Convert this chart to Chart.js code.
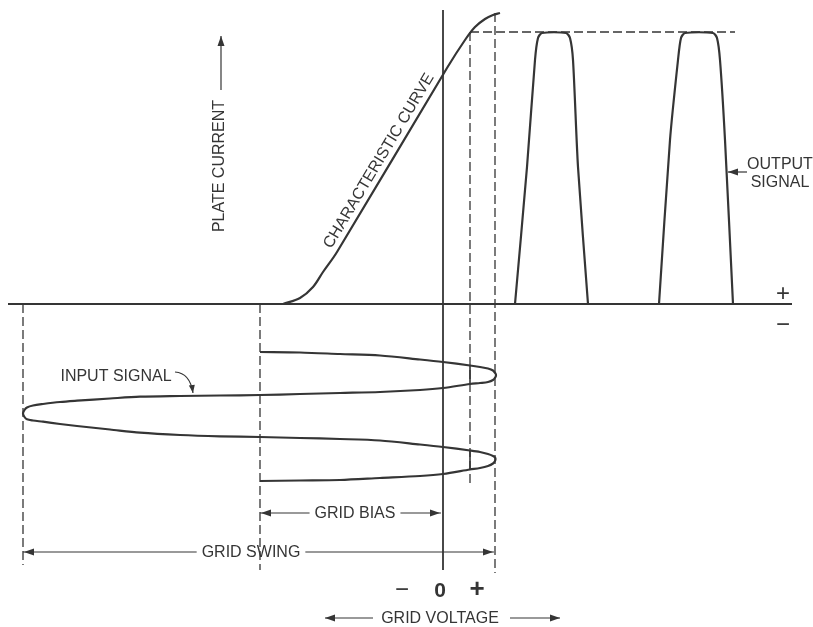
<!DOCTYPE html>
<html>
<head>
<meta charset="utf-8">
<script src="https://cdn.jsdelivr.net/npm/chart.js@4/dist/chart.umd.min.js"></script>
<style>
  html, body { margin: 0; background: #fff; }
  #wrap { width: 813px; height: 627px; position: relative; }
</style>
</head>
<body>
<div id="wrap"><canvas id="chart"></canvas></div>
<script>
/* global Chart */

// x = grid voltage (0 at the plate-current axis), y = plate current above 0, time below 0

const charCurve = [
  { x: -16.0, y: 0 }, { x: -14.3, y: 0.6 }, { x: -13.0, y: 1.7 }, { x: -12.0, y: 3.2 },
  { x: -10.6, y: 5.2 }, { x: 0.4, y: 23.6 }, { x: 2.2, y: 26.4 }, { x: 3.2, y: 27.7 },
  { x: 4.2, y: 28.5 }, { x: 5.0, y: 28.9 }, { x: 5.7, y: 29.1 }
];

const inputSignal = [
  { x: -18.3, y: -4.8 }, { x: -14.3, y: -4.85 }, { x: -10.3, y: -5.0 }, { x: -6.3, y: -5.15 },
  { x: -2.3, y: -5.55 }, { x: 0, y: -5.8 }, { x: 2.7, y: -6.15 }, { x: 3.7, y: -6.3 },
  { x: 4.5, y: -6.45 }, { x: 5.0, y: -6.65 }, { x: 5.25, y: -6.95 }, { x: 5.3, y: -7.1 },
  { x: 5.25, y: -7.3 }, { x: 5.0, y: -7.6 }, { x: 4.5, y: -7.8 }, { x: 3.7, y: -7.9 },
  { x: 2.7, y: -8.0 }, { x: 0, y: -8.4 }, { x: -2.3, y: -8.6 }, { x: -6.3, y: -8.8 },
  { x: -10.3, y: -8.9 }, { x: -14.3, y: -9.0 }, { x: -18.3, y: -9.1 }, { x: -22.3, y: -9.15 },
  { x: -26.3, y: -9.2 }, { x: -30.3, y: -9.27 }, { x: -33.3, y: -9.45 }, { x: -36.6, y: -9.67 },
  { x: -38.3, y: -9.8 }, { x: -40.0, y: -10.0 }, { x: -41.0, y: -10.15 }, { x: -41.6, y: -10.35 },
  { x: -41.85, y: -10.6 }, { x: -42.0, y: -10.95 }, { x: -41.85, y: -11.3 }, { x: -41.6, y: -11.53 },
  { x: -41.0, y: -11.65 }, { x: -40.0, y: -11.77 }, { x: -38.3, y: -12.0 }, { x: -36.6, y: -12.2 },
  { x: -33.3, y: -12.55 }, { x: -30.3, y: -12.87 }, { x: -26.3, y: -13.1 }, { x: -22.3, y: -13.23 },
  { x: -18.3, y: -13.3 }, { x: -14.3, y: -13.4 }, { x: -10.3, y: -13.5 }, { x: -6.3, y: -13.65 },
  { x: -2.3, y: -14.05 }, { x: 0, y: -14.3 }, { x: 2.7, y: -14.65 }, { x: 3.7, y: -14.8 },
  { x: 4.5, y: -15.0 }, { x: 5.0, y: -15.2 }, { x: 5.2, y: -15.35 }, { x: 5.25, y: -15.5 },
  { x: 5.2, y: -15.7 }, { x: 5.0, y: -15.95 }, { x: 4.5, y: -16.2 }, { x: 3.7, y: -16.4 },
  { x: 2.7, y: -16.55 }, { x: 0, y: -17.0 }, { x: -2.3, y: -17.2 }, { x: -6.3, y: -17.4 },
  { x: -10.3, y: -17.6 }, { x: -14.3, y: -17.65 }, { x: -18.3, y: -17.7 }
];

const outputPulseA = [
  { x: 7.2, y: 0 }, { x: 8.4, y: 13.7 }, { x: 9.2, y: 24.4 }, { x: 9.5, y: 26.6 },
  { x: 9.9, y: 27.1 }, { x: 12.3, y: 27.1 }, { x: 12.7, y: 26.6 }, { x: 13.0, y: 24.4 },
  { x: 13.5, y: 13.7 }, { x: 14.5, y: 0 }
];

const outputPulseB = [
  { x: 21.6, y: 0 }, { x: 22.7, y: 16.4 }, { x: 23.5, y: 24.4 }, { x: 23.8, y: 26.6 },
  { x: 24.2, y: 27.1 }, { x: 27.0, y: 27.1 }, { x: 27.4, y: 26.6 }, { x: 27.7, y: 24.4 },
  { x: 28.2, y: 16.4 }, { x: 29.0, y: 0 }
];

const axisH = [{ x: -43.5, y: 0 }, { x: 34.9, y: 0 }];
const axisV = [{ x: 0, y: 29.4 }, { x: 0, y: -26.6 }];

const dashedLines = [
  [{ x: 2.7, y: 27.2 }, { x: 29.2, y: 27.2 }],
  [{ x: 2.7, y: 27.2 }, { x: 2.7, y: -18.1 }],
  [{ x: 5.2, y: 29.1 }, { x: 5.2, y: -26.9 }],
  [{ x: -18.3, y: 0 }, { x: -18.3, y: -26.6 }],
  [{ x: -42.0, y: 0 }, { x: -42.0, y: -26.1 }]
];

const ticksSolid = [
  [{ x: 2.7, y: -6.15 }, { x: 2.7, y: -8.0 }],
  [{ x: 2.7, y: -14.65 }, { x: 2.7, y: -16.55 }]
];

const dimensions = [
  { label: "GRID BIAS", x1: -18.3, x2: -0.2, y: -20.9, tx: -8.8 },
  { label: "GRID SWING", x1: -42.0, x2: 5.1, y: -24.8, tx: -19.2 }
];

const arrows = [
  { from: [-7.0, -31.4], to: [-11.8, -31.4] },
  { from: [6.7, -31.4], to: [11.7, -31.4] },
  { from: [-22.2, 21.4], to: [-22.2, 26.8] },
  { from: [30.4, 13.2], to: [28.5, 13.2] }
];

const labels = [
  { text: "GRID VOLTAGE", x: -0.3, y: -31.4 },
  { text: "INPUT SIGNAL", x: -32.7, y: -7.2 },
  { text: "OUTPUT", x: 33.7, y: 14.0 },
  { text: "SIGNAL", x: 33.7, y: 12.2 }
];

const voltSigns = [
  { text: "\u2212", x: -4.1, y: -28.6 },
  { text: "0", x: -0.3, y: -28.6 },
  { text: "+", x: 3.4, y: -28.6 }
];

const currentSigns = [
  { text: "+", x: 34.0, y: 1.0 },
  { text: "\u2212", x: 34.0, y: -2.1 }
];

const INK = "#353535";
const FAMILY = "'Liberation Sans', Arial, sans-serif";

// ---------------------- drawing helpers ----------------------

function arrowHead(ctx, fx, fy, tx, ty, len = 10, half = 3.5) {
  const a = Math.atan2(ty - fy, tx - fx);
  ctx.beginPath();
  ctx.moveTo(tx, ty);
  ctx.lineTo(tx - len * Math.cos(a) + half * Math.sin(a), ty - len * Math.sin(a) - half * Math.cos(a));
  ctx.lineTo(tx - len * Math.cos(a) - half * Math.sin(a), ty - len * Math.sin(a) + half * Math.cos(a));
  ctx.closePath();
  ctx.fill();
}

function line(ctx, x1, y1, x2, y2) {
  ctx.beginPath();
  ctx.moveTo(x1, y1);
  ctx.lineTo(x2, y2);
  ctx.stroke();
}

const diagram = {
  id: "diagram",
  afterDatasetsDraw(chart) {
    const { ctx } = chart;
    const sx = chart.scales.x, sy = chart.scales.y;
    const px = v => sx.getPixelForValue(v);
    const py = v => sy.getPixelForValue(v);

    ctx.save();
    ctx.strokeStyle = INK;
    ctx.fillStyle = INK;
    ctx.lineWidth = 1.2;
    ctx.font = "16px " + FAMILY;
    ctx.textAlign = "center";
    ctx.textBaseline = "middle";

    // dimension lines with the label in a gap
    dimensions.forEach(d => {
      const w = ctx.measureText(d.label).width;
      const yy = py(d.y), cx = px(d.tx);
      const l = px(d.x1), r = px(d.x2);
      line(ctx, l, yy, cx - w / 2 - 5, yy);
      line(ctx, cx + w / 2 + 5, yy, r, yy);
      arrowHead(ctx, l + 20, yy, l + 1, yy);
      arrowHead(ctx, r - 20, yy, r - 1, yy);
      ctx.fillText(d.label, cx, yy + 1);
    });

    arrows.forEach(a => {
      const x1 = px(a.from[0]), y1 = py(a.from[1]);
      const x2 = px(a.to[0]), y2 = py(a.to[1]);
      line(ctx, x1, y1, x2, y2);
      arrowHead(ctx, x1, y1, x2, y2);
    });

    // curved leader for the input signal
    const s0 = [px(-26.8), py(-6.8)], c = [px(-25.3), py(-6.9)], s1 = [px(-25.0), py(-8.9)];
    ctx.beginPath();
    ctx.moveTo(s0[0], s0[1]);
    ctx.quadraticCurveTo(c[0], c[1], s1[0], s1[1]);
    ctx.stroke();
    arrowHead(ctx, c[0], c[1], s1[0], s1[1], 8, 3);

    labels.forEach(t => ctx.fillText(t.text, px(t.x), py(t.y) + 1));

    // rotated axis title
    ctx.save();
    ctx.translate(px(-22.4), py(13.8));
    ctx.rotate(-Math.PI / 2);
    ctx.fillText("PLATE CURRENT", 0, 1);
    ctx.restore();

    // label following the straight part of the characteristic
    const p = charCurve[4], q = charCurve[5];
    const ang = Math.atan2(py(q.y) - py(p.y), px(q.x) - px(p.x));
    ctx.save();
    ctx.translate(px(-6.4), py(14.3));
    ctx.rotate(ang);
    ctx.fillText("CHARACTERISTIC CURVE", 0, 0);
    ctx.restore();

    voltSigns.forEach(t => {
      if (t.text === "0") {
        ctx.font = "bold 21px " + FAMILY;
        ctx.fillText(t.text, px(t.x), py(t.y) + 1);
      } else {
        ctx.font = (t.text === "+" ? "bold 26px " : "24px ") + FAMILY;
        ctx.fillText(t.text, px(t.x), py(t.y));
      }
    });

    ctx.font = "24px " + FAMILY;
    currentSigns.forEach(t => ctx.fillText(t.text, px(t.x), py(t.y)));

    ctx.restore();
  }
};

// ---------------------- chart ----------------------

const curve = (data, width = 2.2, tension = 0.35) => ({
  data, showLine: true, borderColor: INK, borderWidth: width,
  pointRadius: 0, tension, fill: false
});
const dashed = (data) => ({
  data, showLine: true, borderColor: INK, borderWidth: 1.3,
  borderDash: [9, 4], pointRadius: 0, tension: 0
});

const datasets = [
  curve(axisH, 1.8, 0),
  curve(axisV, 1.8, 0),
  ...dashedLines.map(dashed),
  ...ticksSolid.map(d => curve(d, 1.6, 0)),
  curve(charCurve, 2.2, 0.35),
  curve(inputSignal, 2.2, 0.3),
  curve(outputPulseA, 2.2, 0.25),
  curve(outputPulseB, 2.2, 0.25)
];

new Chart(document.getElementById("chart"), {
  type: "scatter",
  data: { datasets },
  options: {
    responsive: true,
    maintainAspectRatio: false,
    animation: false,
    layout: { padding: 0 },
    plugins: { legend: { display: false }, tooltip: { enabled: false } },
    scales: {
      x: { type: "linear", min: -44.3, max: 37.0, display: false },
      y: { type: "linear", min: -32.3, max: 30.4, display: false }
    }
  },
  plugins: [diagram]
});
</script>
</body>
</html>
